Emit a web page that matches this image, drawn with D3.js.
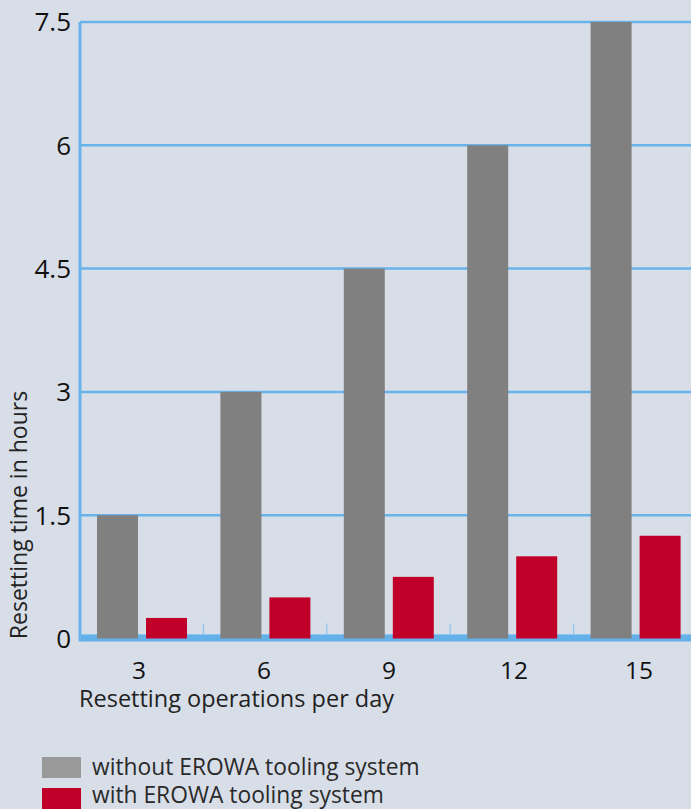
<!DOCTYPE html>
<html>
<head>
<meta charset="utf-8">
<script src="https://cdn.jsdelivr.net/npm/d3@7"></script>
<style>
  body { margin: 0; background: #d8dee8; }
  svg { display: block; font-family: "Open Sans", "Noto Sans", sans-serif; }
</style>
</head>
<body>
<div id="chart"></div>
<script>
// data
var categories = ["3", "6", "9", "12", "15"];
var seriesNames = ["without EROWA tooling system", "with EROWA tooling system"];
var withoutErowa = [1.5, 3, 4.5, 6, 7.5];
var withErowa = [0.25, 0.5, 0.75, 1.0, 1.25];
var yTicks = [0, 1.5, 3, 4.5, 6, 7.5];

var W = 691, H = 809;
var margin = { top: 22, left: 80 };
var plotW = 617, plotH = 616.5;

var svg = d3.select("#chart").append("svg")
    .attr("width", W)
    .attr("height", H);

svg.append("rect").attr("width", W).attr("height", H).attr("fill", "#d8dee8");

var g = svg.append("g")
    .attr("transform", "translate(" + margin.left + "," + margin.top + ")");

var x = d3.scaleBand().domain(categories).range([0, plotW]);
var xInner = d3.scaleBand().domain([0, 1]).range([17, 107]).paddingInner(8 / 49);
var xLabel = d3.scalePoint().domain(categories).range([59, 559]);
var y = d3.scaleLinear().domain([0, 7.5]).range([plotH, 0]);

// grid lines
g.selectAll(".grid")
    .data(yTicks.filter(function (d) { return d > 0; }))
    .enter().append("line")
    .attr("x1", 0).attr("x2", plotW)
    .attr("y1", function (d) { return y(d); })
    .attr("y2", function (d) { return y(d); })
    .attr("stroke", "#67b3ea")
    .attr("stroke-width", 2.5);

// small divider ticks between groups
g.selectAll(".divider")
    .data(categories.slice(1))
    .enter().append("line")
    .attr("x1", function (d) { return x(d); })
    .attr("x2", function (d) { return x(d); })
    .attr("y1", plotH - 15).attr("y2", plotH)
    .attr("stroke", "#8cc4ee")
    .attr("stroke-width", 1.2);

// bottom axis band
g.append("rect")
    .attr("x", 0).attr("y", plotH - 4)
    .attr("width", plotW).attr("height", 7)
    .attr("fill", "#64b0e8");
g.append("line")
    .attr("x1", 0).attr("x2", plotW)
    .attr("y1", plotH - 4).attr("y2", plotH - 4)
    .attr("stroke", "#8ec5ef").attr("stroke-width", 1);

// left axis line
g.append("line")
    .attr("x1", 0).attr("x2", 0)
    .attr("y1", 0).attr("y2", plotH + 3)
    .attr("stroke", "#67b3ea")
    .attr("stroke-width", 3);

var colors = ["#808080", "#c1002a"];
var series = [withoutErowa, withErowa];
for (var i = 0; i < series.length; i++) {
    g.selectAll(".bar" + i)
        .data(series[i])
        .enter().append("rect")
        .attr("x", function (d, j) { return x(categories[j]) + xInner(i); })
        .attr("y", function (d) { return y(d); })
        .attr("width", xInner.bandwidth())
        .attr("height", function (d) { return y(0) - y(d); })
        .attr("fill", colors[i]);
}

// y tick labels
g.selectAll(".ylab")
    .data(yTicks)
    .enter().append("text")
    .attr("x", -9)
    .attr("y", function (d) { return y(d); })
    .attr("dy", "0.36em")
    .attr("text-anchor", "end")
    .attr("font-size", 26)
    .attr("fill", "#111")
    .text(function (d) { return d; });

// x tick labels
g.selectAll(".xlab")
    .data(categories)
    .enter().append("text")
    .attr("x", function (d) { return xLabel(d); })
    .attr("y", plotH + 40)
    .attr("text-anchor", "middle")
    .attr("font-size", 24.5)
    .attr("fill", "#111")
    .text(function (d) { return d; });

// axis titles
svg.append("text")
    .attr("x", 79).attr("y", 707)
    .attr("font-size", 23.5)
    .attr("fill", "#222")
    .text("Resetting operations per day");

svg.append("text")
    .attr("transform", "translate(27,515) rotate(-90)")
    .attr("text-anchor", "middle")
    .attr("font-size", 23)
    .attr("fill", "#222")
    .text("Resetting time in hours");

// legend
var legendColors = ["#999999", "#c1002a"];
var legendY = [757, 788];
var legendBase = [775, 803];
for (var k = 0; k < seriesNames.length; k++) {
    svg.append("rect")
        .attr("x", 42).attr("y", legendY[k])
        .attr("width", 39).attr("height", 21)
        .attr("fill", legendColors[k]);
    svg.append("text")
        .attr("x", 92).attr("y", legendBase[k])
        .attr("font-size", 22.8)
        .attr("fill", "#2a2a2a")
        .text(seriesNames[k]);
}
</script>
</body>
</html>
